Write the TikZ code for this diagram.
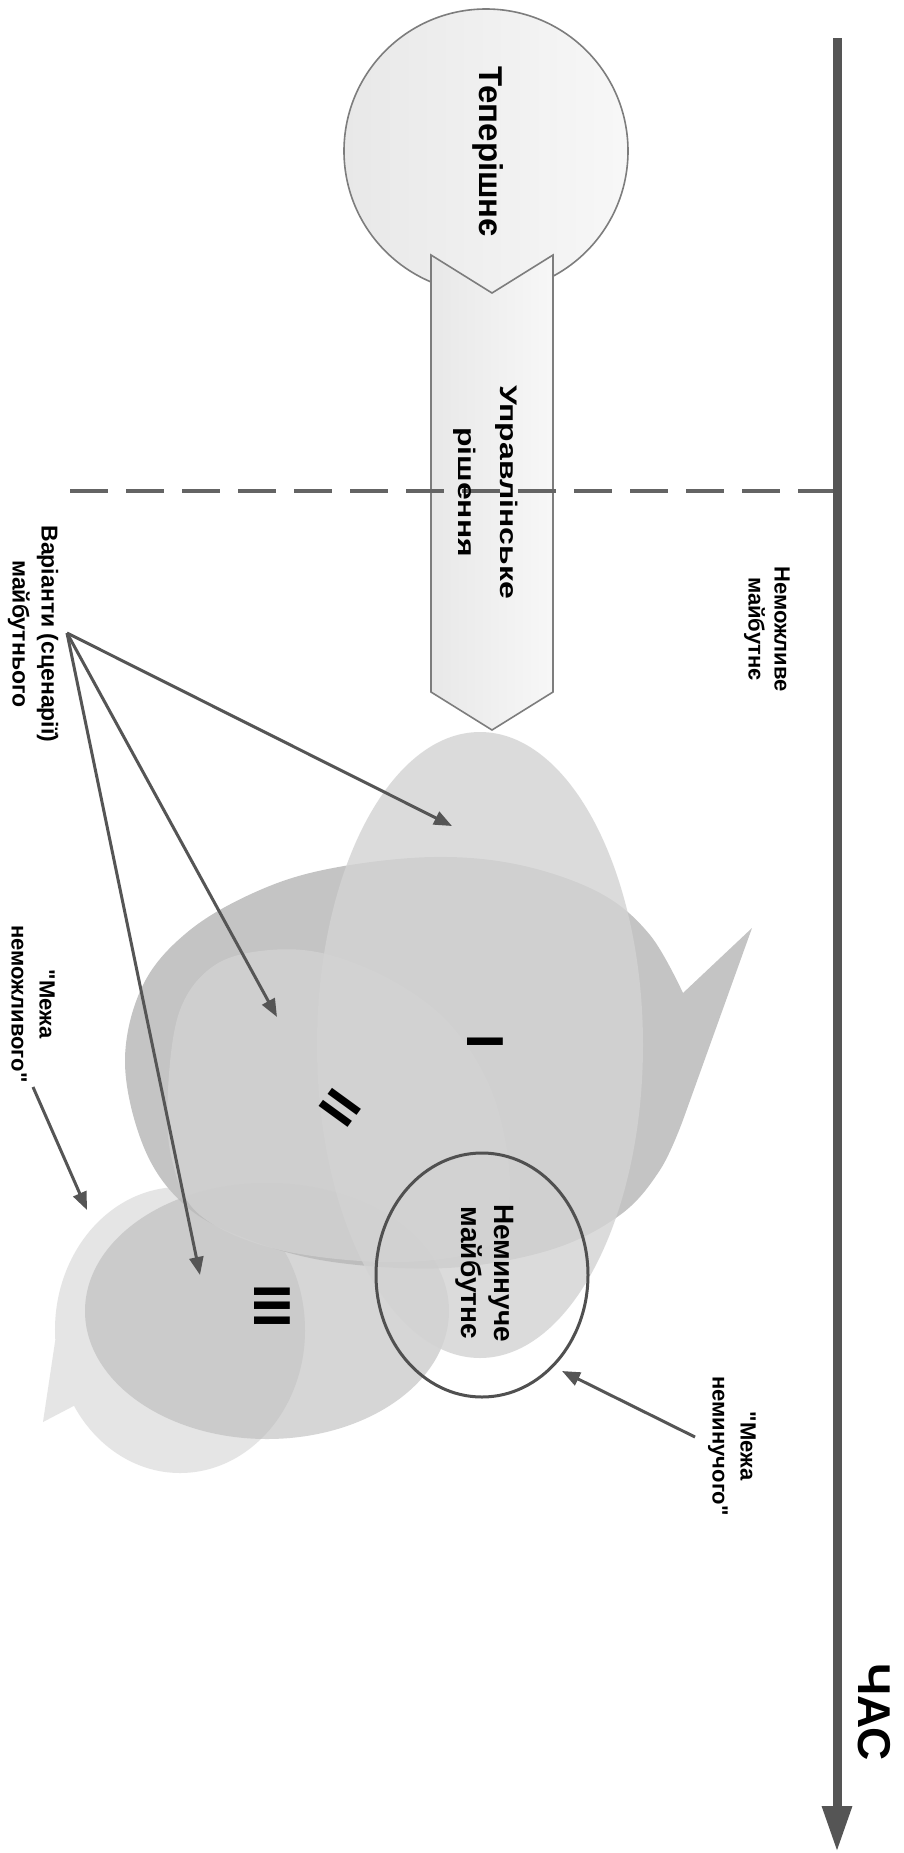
\documentclass[tikz,border=0pt]{standalone}
\usepackage{fontspec}
\setmainfont{Liberation Sans}[Ligatures=TeXOff]
\usetikzlibrary{arrows.meta}
\definecolor{axisgray}{RGB}{85,85,85}
\definecolor{ptrgray}{RGB}{85,85,85}
\definecolor{dashgray}{RGB}{100,100,100}
\definecolor{edgegray}{RGB}{125,125,125}
\definecolor{shapeA}{RGB}{211,211,211}
\definecolor{shapeB}{RGB}{196,196,196}
\definecolor{shapeC}{RGB}{211,211,211}
\definecolor{shapeE}{RGB}{229,229,229}
\definecolor{shapeF}{RGB}{184,184,184}
\definecolor{ringgray}{RGB}{80,80,80}
\tikzset{
  lbl/.style={rotate=-90, align=center, inner sep=0pt, text=black},
  ptr/.style={draw=ptrgray, line width=1.5pt, -{Triangle[length=9pt,width=7pt]}},
  numeral/.style={inner sep=0pt, font=\bfseries\fontsize{26}{26}\selectfont},
  pale/.style={draw=edgegray, line width=0.8pt, left color=black!9, right color=black!3},
}
\begin{document}
\begin{tikzpicture}[x=0.5pt,y=-0.5pt]
\useasboundingbox (0,0) rectangle (904,1853);
\fill[white] (0,0) rectangle (904,1853);

% present circle and decision chevron
\path[pale] (486,151) circle[radius=142];
\path[pale] (431,255) -- (492,293) -- (553,255) -- (553,692) -- (492,730) -- (431,692) -- cycle;

% dashed boundary
\coordinate (dl) at (70,491);
\coordinate (dr) at (833,491);
\draw[dashgray, line width=2pt, dash pattern=on 19pt off 9pt] (dl) -- (dr);

% light bubble (E)
\fill[shapeE] ([shift={(180,1330)}]176:125 and 143) arc[start angle=176, end angle=508, x radius=125, y radius=143] -- (43,1422) -- cycle;
% dark callout (B)
\fill[shapeB] plot[smooth, tension=0.6] coordinates {(683,1120) (660,1170) (620,1215) (550,1250) (447,1268) (333,1262) (250,1240) (187,1207) (145,1150) (125,1063) (143,985) (190,930) (260,890) (333,868) (433,857) (520,865) (600,893) (650,935) (683,993)} -- (752,928) -- cycle;
% III ellipse (F)
\fill[shapeF, fill opacity=0.577] (267,1311) ellipse[x radius=182, y radius=128];
% I ellipse (A)
\fill[shapeA, fill opacity=0.8] (480,1045) ellipse[x radius=163, y radius=313];
% II shape (C)
\fill[shapeC, fill opacity=0.75] plot[smooth cycle, tension=0.6] coordinates {(168,1090) (180,1010) (215,965) (270,950) (330,955) (400,985) (455,1030) (495,1100) (510,1190) (490,1245) (400,1262) (280,1250) (200,1215) (172,1160)};
% inevitable ring
\draw[ringgray, line width=1.5pt] (482,1275) ellipse[x radius=106, y radius=122];

% time axis
\coordinate (ttop) at (837,38);
\coordinate (tend) at (837,1852);
\draw[axisgray, line width=4.5pt, -{Triangle[length=23pt,width=14pt]}] (ttop) -- (tend);

% texts
\node[lbl, font=\bfseries\fontsize{16.5}{20}\selectfont] (present) at (488,152) {Теперішнє};
\node[lbl, font=\bfseries\fontsize{12}{21}\selectfont, xscale=1.33] (decision) at (486,492) {Управлінське\\рішення};
\node[lbl, font=\bfseries\fontsize{11}{13}\selectfont] (impossible) at (767,629) {Неможливе\\майбутнє};
\node[lbl, font=\bfseries\fontsize{11.5}{14.5}\selectfont] (variants) at (33,634) {Варіанти (сценарії)\\майбутнього};
\node[lbl, font=\bfseries\fontsize{11}{14}\selectfont] (limitimp) at (33,1004) {"Межа\\неможливого"};
\node[lbl, font=\bfseries\fontsize{14}{16.5}\selectfont] (inevitable) at (485,1273) {Неминуче\\майбутнє};
\node[lbl, font=\bfseries\fontsize{11}{14}\selectfont] (limitinev) at (732,1446) {"Межа\\неминучого"};
\node[lbl, font=\bfseries\fontsize{23}{26}\selectfont] (time) at (874,1712) {ЧАС};
\node[numeral, rotate=-90] (one) at (485,1042) {I};
\node[numeral, rotate=-126] (two) at (340,1108) {II};
\node[numeral, rotate=-90] (three) at (272,1306) {III};

% pointers
\coordinate (vsrc) at (67,633);
\coordinate (tipI) at (452,826);
\coordinate (tipII) at (277,1017);
\coordinate (tipIII) at (200,1275);
\draw[ptr] (vsrc) -- (tipI);
\draw[ptr] (vsrc) -- (tipII);
\draw[ptr] (vsrc) -- (tipIII);
\coordinate (limsrc) at (33,1087);
\coordinate (limtip) at (87,1210);
\draw[ptr] (limsrc) -- (limtip);
\coordinate (inevsrc) at (695,1437);
\coordinate (inevtip) at (562,1371);
\draw[ptr] (inevsrc) -- (inevtip);
\end{tikzpicture}
\end{document}
